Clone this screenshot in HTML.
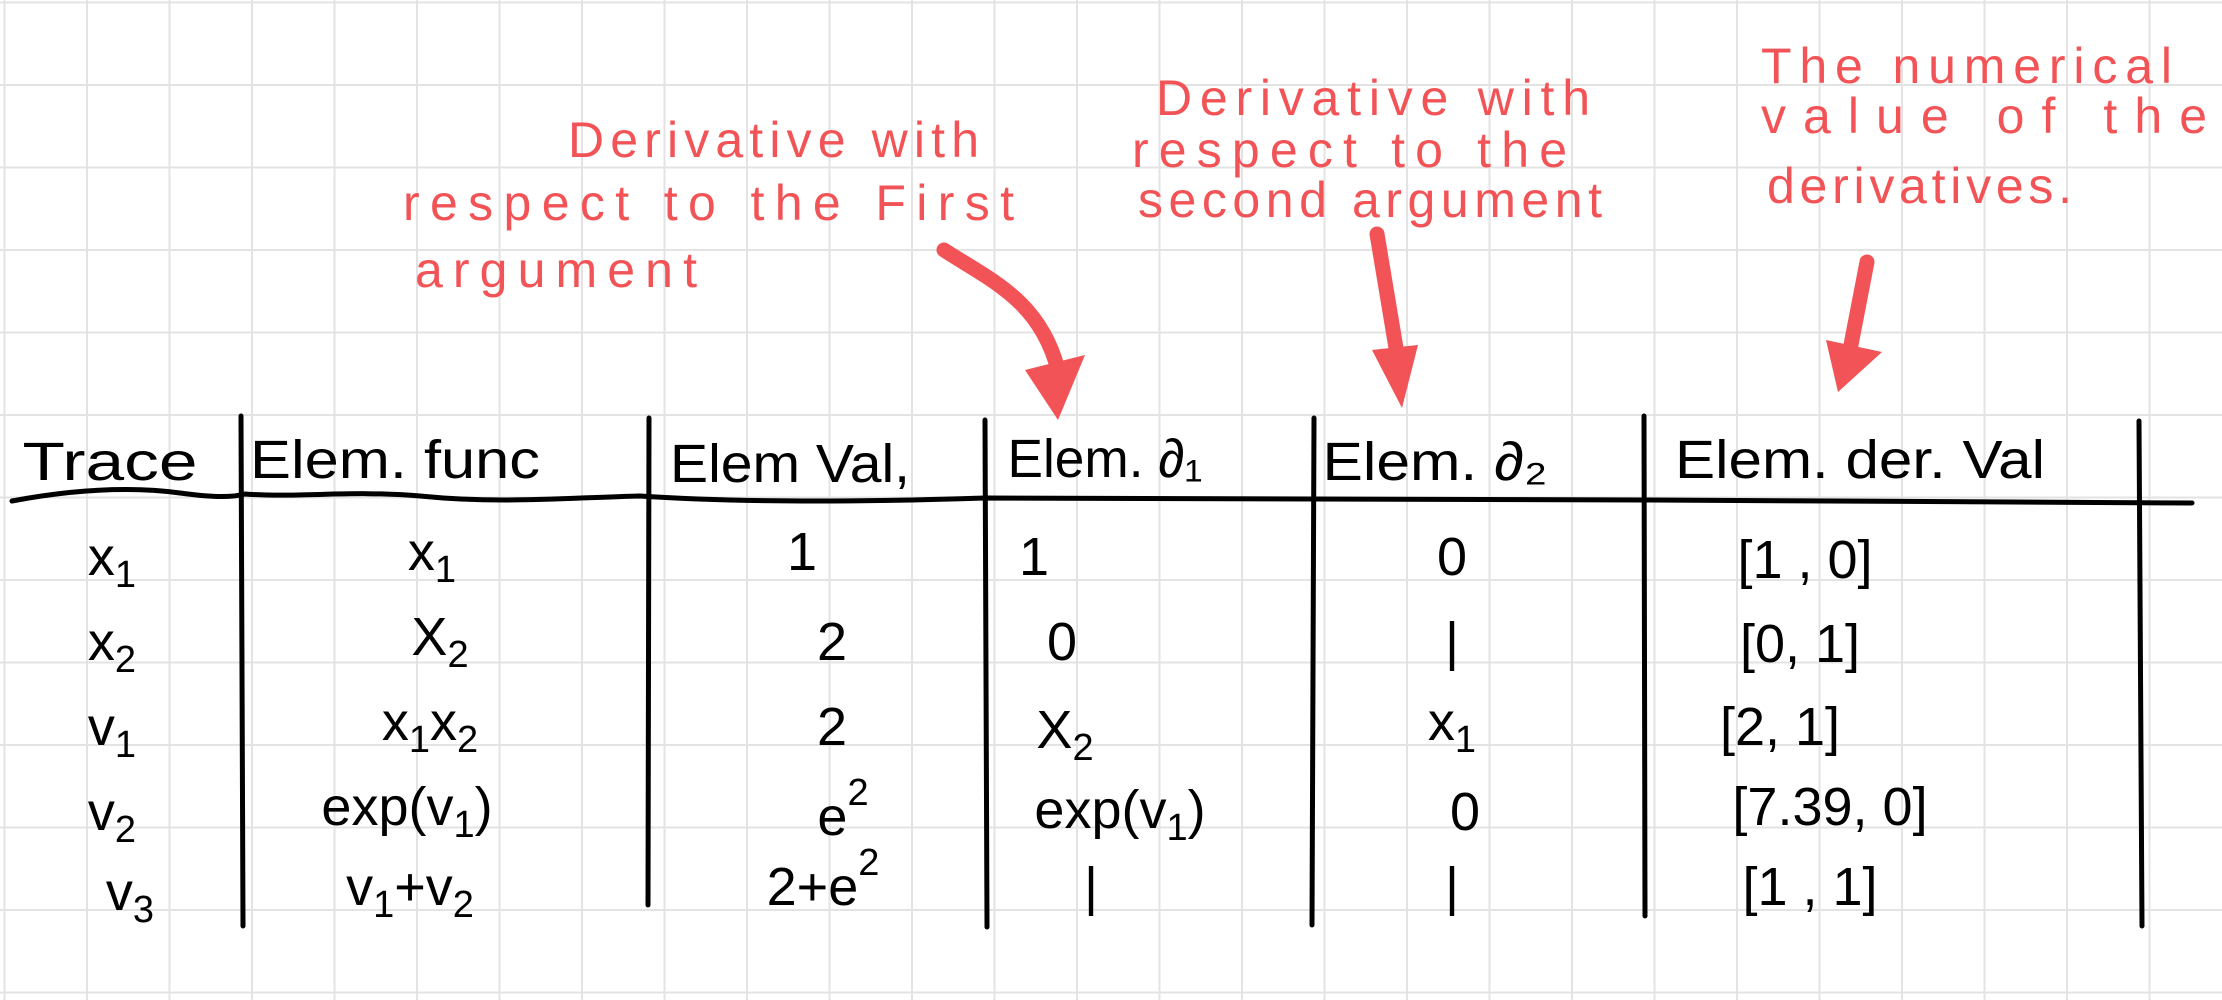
<!DOCTYPE html>
<html><head><meta charset="utf-8"><style>
html,body{margin:0;padding:0;background:#fff}
svg{display:block}
</style></head><body>
<svg width="2222" height="1000" viewBox="0 0 2222 1000" xmlns="http://www.w3.org/2000/svg">
<defs>
<pattern id="g" x="3.5" y="1.5" width="82.5" height="82.5" patternUnits="userSpaceOnUse">
<path d="M0 0V82.5M0 0H82.5" stroke="#e3e3e3" stroke-width="4" fill="none"/>
</pattern>
</defs>
<rect width="2222" height="1000" fill="#fff"/>
<rect width="2222" height="1000" fill="url(#g)"/>

<!-- red annotations -->
<g fill="#f25356" font-family="Liberation Sans, sans-serif" font-size="50">
<text x="568" y="157" textLength="411" lengthAdjust="spacing">Derivative with</text>
<text x="403" y="220" textLength="611" lengthAdjust="spacing">respect  to  the  First</text>
<text x="415" y="287" textLength="282" lengthAdjust="spacing">argument</text>
<text x="1156" y="115" textLength="434" lengthAdjust="spacing">Derivative  with</text>
<text x="1132" y="167" textLength="435" lengthAdjust="spacing">respect  to  the</text>
<text x="1138" y="217" textLength="464" lengthAdjust="spacing">second argument</text>
<text x="1761" y="83" textLength="411" lengthAdjust="spacing">The   numerical</text>
<text x="1761" y="133" textLength="446" lengthAdjust="spacing">value   of   the</text>
<text x="1767" y="203" textLength="305" lengthAdjust="spacing">derivatives.</text>
</g>
<g stroke="#f25356" stroke-width="15" stroke-linecap="round" fill="none">
<path d="M944 250 C990 280 1040 300 1058 370"/>
<path d="M1377 234 L1398 360"/>
<path d="M1867 262 L1850 350"/>
</g>
<g fill="#f25356">
<path d="M1025 370 L1085 355 L1058 420 Z"/>
<path d="M1372 350 L1418 345 L1402 408 Z"/>
<path d="M1826 340 L1882 352 L1838 392 Z"/>
</g>

<!-- table lines -->
<g stroke="#000" stroke-width="5" fill="none" stroke-linecap="round">
<path d="M12 501 C60 492 120 485 180 493 C210 497 230 498 245 494 C300 498 350 490 420 496 C500 504 560 498 640 496 C700 500 800 504 985 498 L1314 499 L1644 500 L2192 503"/>
<path d="M241 416 L243 926"/>
<path d="M649 418 L648 905"/>
<path d="M985 420 L987 927"/>
<path d="M1314 418 L1312 925"/>
<path d="M1644 416 L1645 916"/>
<path d="M2139 421 L2142 926"/>
</g>

<!-- table text -->
<g fill="#000" font-family="Liberation Sans, sans-serif" font-size="54" text-anchor="middle">
<text x="110" y="480" textLength="175" lengthAdjust="spacingAndGlyphs">Trace</text>
<text x="395" y="478" textLength="290" lengthAdjust="spacingAndGlyphs">Elem.  func</text>
<text x="790" y="482" textLength="240" lengthAdjust="spacingAndGlyphs">Elem  Val,</text>
<text x="1105" y="477" textLength="195" lengthAdjust="spacingAndGlyphs">Elem.  ∂₁</text>
<text x="1435" y="480" textLength="225" lengthAdjust="spacingAndGlyphs">Elem.  ∂₂</text>
<text x="1860" y="478" textLength="370" lengthAdjust="spacingAndGlyphs">Elem.  der.  Val</text>

<text x="112" y="575">x<tspan font-size="38" dy="12">1</tspan></text>
<text x="432" y="570">x<tspan font-size="38" dy="12">1</tspan></text>
<text x="802" y="570">1</text>
<text x="1034" y="575">1</text>
<text x="1452" y="575">0</text>
<text x="1805" y="578">[1 ,  0]</text>

<text x="112" y="660">x<tspan font-size="38" dy="12">2</tspan></text>
<text x="440" y="655">X<tspan font-size="38" dy="12">2</tspan></text>
<text x="832" y="660">2</text>
<text x="1062" y="660">0</text>
<text x="1452" y="660">|</text>
<text x="1800" y="662">[0,   1]</text>

<text x="112" y="745">v<tspan font-size="38" dy="12">1</tspan></text>
<text x="430" y="740">x<tspan font-size="38" dy="12">1</tspan><tspan dy="-12">x</tspan><tspan font-size="38" dy="12">2</tspan></text>
<text x="832" y="745">2</text>
<text x="1065" y="748">X<tspan font-size="38" dy="12">2</tspan></text>
<text x="1452" y="740">x<tspan font-size="38" dy="12">1</tspan></text>
<text x="1780" y="745">[2,   1]</text>

<text x="112" y="830">v<tspan font-size="38" dy="12">2</tspan></text>
<text x="407" y="825">exp(v<tspan font-size="38" dy="12">1</tspan><tspan dy="-12">)</tspan></text>
<text x="843" y="835">e<tspan font-size="38" dy="-30">2</tspan></text>
<text x="1120" y="828">exp(v<tspan font-size="38" dy="12">1</tspan><tspan dy="-12">)</tspan></text>
<text x="1465" y="830">0</text>
<text x="1830" y="825">[7.39,  0]</text>

<text x="130" y="910">v<tspan font-size="38" dy="12">3</tspan></text>
<text x="410" y="905">v<tspan font-size="38" dy="12">1</tspan><tspan dy="-12">+v</tspan><tspan font-size="38" dy="12">2</tspan></text>
<text x="823" y="905">2+e<tspan font-size="38" dy="-30">2</tspan></text>
<text x="1091" y="905">|</text>
<text x="1452" y="905">|</text>
<text x="1810" y="905">[1 ,  1]</text>
</g>
</svg>
</body></html>
